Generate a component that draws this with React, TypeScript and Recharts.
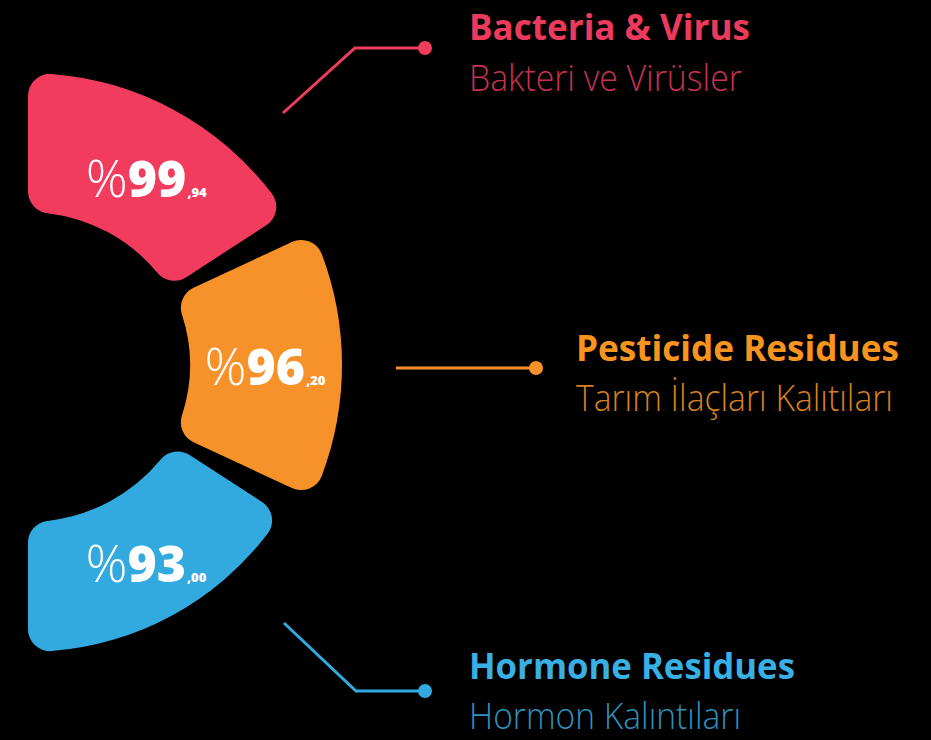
import { useLayoutEffect, useRef, useState } from "react";
import { PieChart, Pie, Cell } from "recharts";

const categories = ["Bacteria & Virus", "Pesticide Residues", "Hormone Residues"];
const subtitles = ["Bakteri ve Virüsler", "Tarım İlaçları Kalıtıları", "Hormon Kalıntıları"];
const percents = [99.94, 96.2, 93.0];

const colors = ["#f23c5e", "#f7922a", "#33aadf"];
const titleColors = ["#ec3a5d", "#f7941f", "#39b0e3"];
const subColors = ["#c8304f", "#d8821f", "#2e91bf"];

const W = 931;
const H = 740;

// arc geometry per segment (degrees, px)
const arcs = [
  { cx: 28, cy: 380, start: 90, end: 33, inner: 168, outer: 307, labelAngle: 59.5, labelR: 233 },
  { cx: 28, cy: 365, start: 25, end: -25, inner: 162, outer: 314, labelAngle: -0.5, labelR: 237 },
  { cx: 28, cy: 350, start: -33, end: -90, inner: 172, outer: 302, labelAngle: -61.1, labelR: 244 },
];

// leader lines + text blocks
const leaders = [
  { pts: [[283, 113], [355, 48], [425, 48]], tx: 469, ty: 40, sy: 91, tw: 281, sw: 273 },
  { pts: [[396, 368], [536, 368]], tx: 576, ty: 361, sy: 411, tw: 323, sw: 317 },
  { pts: [[284, 623], [356, 691], [425, 691]], tx: 469, ty: 679, sy: 729, tw: 326, sw: 272 },
];

const RAD = Math.PI / 180;

function FitText({ x, y, width, children, ...rest }: any) {
  const ref = useRef<SVGTextElement>(null);
  const [k, setK] = useState(1);
  useLayoutEffect(() => {
    if (ref.current) {
      const w = ref.current.getComputedTextLength();
      if (w > 0) setK(width / w);
    }
  }, [width, children]);
  return (
    <text ref={ref} transform={`translate(${x},${y}) scale(${k},1)`} {...rest}>
      {children}
    </text>
  );
}

function ValueLabel({ cx, cy, i }: { cx: number; cy: number; i: number }) {
  const a = arcs[i];
  const x = cx + a.labelR * Math.cos(-a.labelAngle * RAD);
  const y = cy + a.labelR * Math.sin(-a.labelAngle * RAD);
  const [whole, frac] = percents[i].toFixed(2).split(".");
  return (
    <text x={x} y={y + 18} textAnchor="middle" fill="#ffffff" fontFamily="'Open Sans', sans-serif">
      <tspan fontWeight={300} fontSize={52}>%</tspan>
      <tspan fontWeight={800} fontSize={50}>{whole}</tspan>
      <tspan fontWeight={800} fontSize={13} dx={1}>,{frac}</tspan>
    </text>
  );
}

export default function App() {
  return (
    <div style={{ position: "absolute", left: 0, top: 0, width: W, height: H, background: "#000", overflow: "hidden" }}>
      <PieChart width={W} height={H} margin={{ top: 0, right: 0, bottom: 0, left: 0 }}>
        {arcs.map((a, i) => (
          <Pie
            key={categories[i]}
            data={[{ name: categories[i], value: percents[i] }]}
            dataKey="value"
            cx={a.cx}
            cy={a.cy}
            startAngle={a.start}
            endAngle={a.end}
            innerRadius={a.inner}
            outerRadius={a.outer}
            cornerRadius={22}
            stroke="none"
            isAnimationActive={false}
            labelLine={false}
            label={(p: any) => <ValueLabel cx={p.cx} cy={p.cy} i={i} />}
          >
            <Cell fill={colors[i]} />
          </Pie>
        ))}
      </PieChart>

      <svg width={W} height={H} style={{ position: "absolute", left: 0, top: 0 }}>
        {leaders.map((l, i) => {
          const last = l.pts[l.pts.length - 1];
          return (
            <g key={i}>
              <polyline
                points={l.pts.map((p) => p.join(",")).join(" ")}
                fill="none"
                stroke={colors[i]}
                strokeWidth={3}
              />
              <circle cx={last[0]} cy={last[1]} r={7} fill={colors[i]} />
              <FitText
                x={l.tx}
                y={l.ty}
                width={l.tw}
                fill={titleColors[i]}
                fontFamily="'Open Sans', sans-serif"
                fontWeight={700}
                fontSize={36}
              >
                {categories[i]}
              </FitText>
              <FitText
                x={l.tx}
                y={l.sy}
                width={l.sw}
                fill={subColors[i]}
                fontFamily="'Open Sans', sans-serif"
                fontWeight={300}
                fontSize={37}
              >
                {subtitles[i]}
              </FitText>
            </g>
          );
        })}
      </svg>
    </div>
  );
}
